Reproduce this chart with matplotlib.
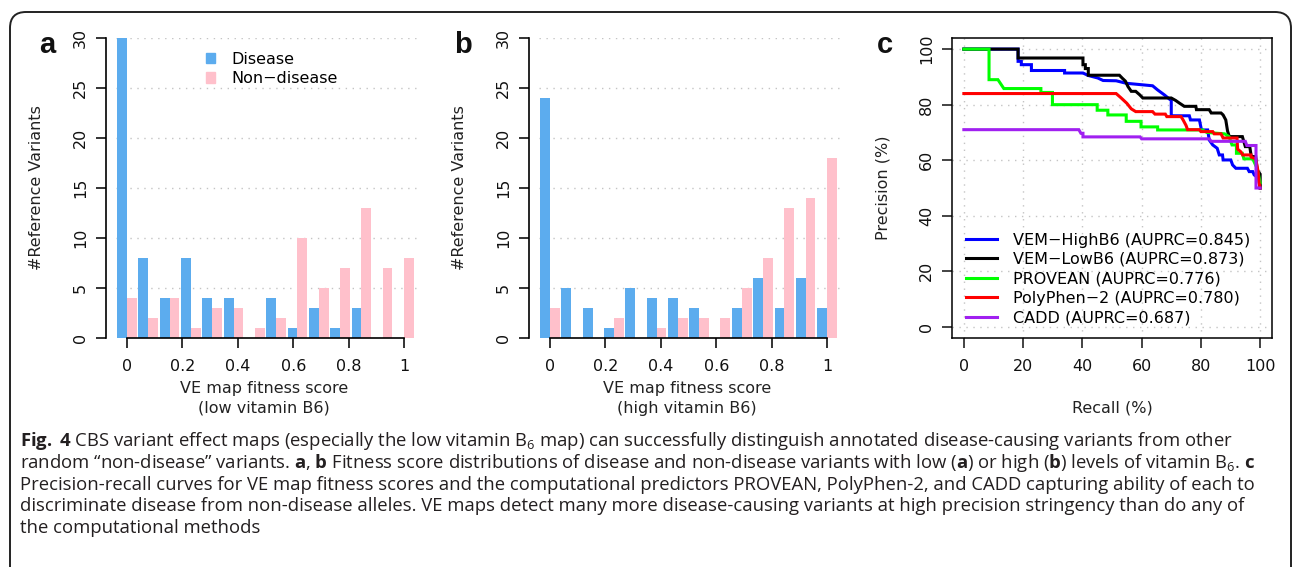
import matplotlib
matplotlib.use("Agg")
import matplotlib.pyplot as plt
import numpy as np
from matplotlib import font_manager
from matplotlib.patches import Patch, FancyBboxPatch
from matplotlib.transforms import IdentityTransform

# --- data -------------------------------------------------------------
score_bins = [0, 0.077, 0.154, 0.231, 0.308, 0.385, 0.462,
              0.538, 0.615, 0.692, 0.769, 0.846, 0.923, 1.0]
low_b6_disease = [30, 8, 4, 8, 4, 4, 0, 4, 1, 3, 1, 3, 0, 0]
low_b6_nondisease = [4, 2, 4, 1, 3, 3, 1, 2, 10, 5, 7, 13, 7, 8]
high_b6_disease = [24, 5, 3, 1, 5, 4, 4, 3, 0, 3, 6, 3, 6, 3]
high_b6_nondisease = [3, 0, 0, 2, 0, 1, 2, 2, 2, 5, 8, 13, 14, 18]

# precision-recall curves (recall %, precision %)
vem_high_recall = [0, 18.3, 18.3, 19.4, 19.4, 22.8, 22.8, 34, 34, 40.2, 42, 45.2, 47, 51.4,
                   54.8, 63.7, 65.4, 67.7, 69.4, 70, 70, 76.1, 76.5, 79.5, 80.2, 82.3,
                   82.8, 84, 85.5, 86.2, 87.3, 87.5, 90.1, 90.7, 91.8, 95.7, 96.3, 97.5,
                   98, 99.5, 100]
vem_high_prec = [100, 100, 95.6, 95.6, 94.4, 94.4, 92.3, 92.3, 91.4, 91.4, 90.5, 89.6, 88.7, 88.6,
                 87.7, 86.8, 85.3, 83.5, 82, 82, 76, 76, 74.5, 74.5, 70.9, 70.9,
                 67.3, 65.5, 64.3, 61.9, 61.9, 60.1, 60.1, 58.3, 57.1, 57.1, 55.9, 55.9,
                 54.7, 53.5, 50]
vem_low_recall = [0, 18.3, 18.3, 40.2, 40.2, 41, 41, 42, 42, 52.5, 53.5, 54.5, 55.4, 56.5, 58,
                  59.3, 60.4, 70, 71.5, 72.7, 74.4, 78.3, 78.5, 82.8, 83.5, 86.8, 87.5,
                  88.4, 89, 89.6, 94, 95, 96.5, 97, 98.5, 99, 100, 100]
vem_low_prec = [100, 100, 96.8, 96.8, 94.4, 94.4, 93, 93, 90.6, 90.6, 89.5, 88.5, 86.5, 84.8, 84.8,
                83.6, 82.4, 82.4, 81.5, 80.6, 79.4, 79.4, 78.2, 78.2, 77, 77, 76.3,
                74.5, 70.5, 68.5, 68.5, 64.9, 64.9, 61.3, 61.3, 56.5, 55, 50]
provean_recall = [0, 8.5, 8.5, 11.5, 13.5, 26, 26, 29.9, 29.9, 45, 45, 48.6, 48.6, 54.8, 54.8,
                  59.8, 59.8, 65.4, 65.4, 80.6, 82, 88, 89.5, 90.5, 92, 92, 94, 94.5,
                  97.5, 99, 100]
provean_prec = [100, 100, 89, 89, 85.8, 85.8, 84.4, 84.4, 80, 80, 78, 78, 76.3, 76.3, 74,
                74, 72, 72, 70.9, 70.9, 70, 69.5, 68.5, 65.5, 65.5, 62.5, 62.5, 60.5,
                60.5, 57, 52]
polyphen_recall = [0, 51.4, 53, 55, 56.5, 58, 63.7, 64.5, 68, 68.5, 73.3, 74, 75, 75.5, 79.5,
                   80, 84, 84.5, 86.8, 87.5, 92.2, 92.4, 93.5, 94.1, 96.9, 97, 98.5, 99.3,
                   99.6, 100]
polyphen_prec = [84, 84, 82.5, 80.5, 78.5, 77.5, 77.5, 76.6, 76.6, 75.7, 75.7, 74.5, 72.5, 71, 71,
                 70.3, 70.3, 69.5, 69.5, 68, 68, 64, 63, 61.9, 61.9, 61.1, 60.5, 56,
                 52, 50]
cadd_recall = [0, 38.8, 39.5, 40.2, 40.2, 59.5, 60, 82.8, 83.5, 95, 95.5, 98.6, 98.6, 100]
cadd_prec = [71, 71, 69.7, 69.7, 68.4, 68.4, 67.7, 67.7, 66.8, 66.8, 65.3, 65.3, 50, 50]

pr_labels = ["VEM\u2212HighB6 (AUPRC=0.845)", "VEM\u2212LowB6 (AUPRC=0.873)",
             "PROVEAN (AUPRC=0.776)", "PolyPhen\u22122 (AUPRC=0.780)",
             "CADD (AUPRC=0.687)"]
pr_colors = ["#0000ff", "#000000", "#00ff00", "#ff0000", "#a020f0"]

caption_lines = [
    r"$\mathbf{Fig.}$ $\mathbf{4}$ CBS variant effect maps (especially the low vitamin B$_6$ map) can successfully distinguish annotated disease-causing variants from other",
    r"random “non-disease” variants. $\mathbf{a}$, $\mathbf{b}$ Fitness score distributions of disease and non-disease variants with low ($\mathbf{a}$) or high ($\mathbf{b}$) levels of vitamin B$_6$. $\mathbf{c}$",
    "Precision-recall curves for VE map fitness scores and the computational predictors PROVEAN, PolyPhen-2, and CADD capturing ability of each to",
    "discriminate disease from non-disease alleles. VE maps detect many more disease-causing variants at high precision stringency than do any of",
    "the computational methods",
]

# --- fonts ------------------------------------------------------------
def has_font(name):
    try:
        font_manager.findfont(name, fallback_to_default=False)
        return True
    except ValueError:
        return False

cap_font = next(f for f in ["Liberation Sans Narrow", "Open Sans", "Liberation Sans"] if has_font(f))
plt.rcParams["font.family"] = "DejaVu Sans"
plt.rcParams["mathtext.fontset"] = "custom"
plt.rcParams["mathtext.rm"] = cap_font
plt.rcParams["mathtext.it"] = cap_font + ":italic"
plt.rcParams["mathtext.bf"] = cap_font + ":bold"

W, H = 1293, 567
FS = 11.5
TXT = "#222222"
GRID = "#c4c4c4"

def fx(x):
    return x / W

def fy(y):
    return 1 - y / H

fig = plt.figure(figsize=(W / 100, H / 100), dpi=100)
fig.add_artist(FancyBboxPatch((10, -60), 1281, 555 + 60,
                              boxstyle="round,pad=0,rounding_size=16",
                              transform=IdentityTransform(), fill=False,
                              lw=1.4, ec="#222222"))

disease_col = "#5CACEE"
nondisease_col = "#FFC0CB"
bw = 0.0355


def hist_panel(ax, dis, nondis):
    x = np.array(score_bins)
    ax.hlines([5, 10, 15, 20, 25, 30], -0.04, 1.065, colors=GRID,
              linestyles=(0, (1, 4)), lw=1, zorder=0)
    ax.bar(x - bw / 2, dis, width=bw, color=disease_col, zorder=2)
    ax.bar(x + bw / 2, nondis, width=bw, color=nondisease_col, zorder=2)
    ax.set_xlim(-0.0758, 1.065)
    ax.set_ylim(0, 30)
    for s in ["top", "right"]:
        ax.spines[s].set_visible(False)
    ax.spines["left"].set_bounds(0, 30)
    ax.spines["bottom"].set_bounds(0, 1)
    ax.spines["left"].set_linewidth(1.2)
    ax.spines["bottom"].set_linewidth(1.2)
    ax.set_xticks([0, 0.2, 0.4, 0.6, 0.8, 1.0])
    ax.set_xticklabels(["0", "0.2", "0.4", "0.6", "0.8", "1"])
    ax.set_yticks([0, 5, 10, 15, 20, 25, 30])
    ax.set_yticklabels(["0", "5", "10", "15", "20", "25", "30"], rotation=90, va="center")
    ax.tick_params(length=7, width=1.2, labelsize=FS, colors="#111111", pad=6)
    ax.tick_params(axis="x", pad=8)


ax_a = fig.add_axes([fx(106), fy(338), 316 / W, 300 / H])
hist_panel(ax_a, low_b6_disease, low_b6_nondisease)
ax_a.legend(handles=[Patch(color=disease_col, label="Disease"),
                     Patch(color=nondisease_col, label="Non\u2212disease")],
            loc="upper left", bbox_to_anchor=(0.315, 0.955), frameon=False,
            fontsize=FS, handlelength=0.62, handleheight=0.62,
            handletextpad=1.0, labelspacing=0.29, borderpad=0, borderaxespad=0)

ax_b = fig.add_axes([fx(529), fy(338), 316 / W, 300 / H])
hist_panel(ax_b, high_b6_disease, high_b6_nondisease)

# axis labels for the histograms
for cx, sub in [(264, "(low vitamin B6)"), (687, "(high vitamin B6)")]:
    fig.text(fx(cx), fy(388), "VE map fitness score", ha="center", va="center", fontsize=FS, color=TXT)
    fig.text(fx(cx), fy(408), sub, ha="center", va="center", fontsize=FS, color=TXT)
for lx in [37, 460]:
    fig.text(fx(lx), fy(188), "#Reference Variants", rotation=90, ha="center", va="center",
             fontsize=FS, color=TXT)

# --- precision-recall panel -------------------------------------------
ax_c = fig.add_axes([fx(952), fy(338), 320 / W, 300 / H])
ticks = [0, 20, 40, 60, 80, 100]
for t in ticks:
    ax_c.axvline(t, color=GRID, ls=(0, (1, 4)), lw=1, zorder=0)
    ax_c.axhline(t, color=GRID, ls=(0, (1, 4)), lw=1, zorder=0)
curves = [(vem_high_recall, vem_high_prec), (vem_low_recall, vem_low_prec),
          (provean_recall, provean_prec), (polyphen_recall, polyphen_prec),
          (cadd_recall, cadd_prec)]
for (r, p), col, lab in zip(curves, pr_colors, pr_labels):
    ax_c.plot(r, p, color=col, lw=2.2, label=lab, solid_joinstyle="miter")
ax_c.set_xlim(-4, 104)
ax_c.set_ylim(-4, 104)
ax_c.set_xticks(ticks)
ax_c.set_yticks(ticks)
ax_c.set_yticklabels([str(t) for t in ticks], rotation=90, va="center")
ax_c.tick_params(length=7, width=1.1, labelsize=FS, colors="#111111", pad=6)
ax_c.tick_params(axis="x", pad=8)
for s in ax_c.spines.values():
    s.set_linewidth(1.1)
ax_c.legend(loc="lower left", bbox_to_anchor=(0.045, 0.042), frameon=False, fontsize=FS,
            handlelength=1.9, handletextpad=1.0, labelspacing=0.28,
            borderpad=0, borderaxespad=0)
fig.text(fx(1112), fy(408), "Recall (%)", ha="center", va="center", fontsize=FS, color=TXT)
fig.text(fx(883), fy(188), "Precision (%)", rotation=90, ha="center", va="center",
         fontsize=FS, color=TXT)

# panel letters
for px_, py_, letter in [(47, 45, "a"), (463, 45, "b"), (885, 45, "c")]:
    fig.text(fx(px_), fy(py_), letter, ha="center", va="center", fontsize=21,
             fontweight="bold", family="Liberation Sans", color="#111111")

# --- caption ----------------------------------------------------------
for i, line in enumerate(caption_lines):
    fig.text(fx(20), fy(446 + 21.8 * i), line, ha="left", va="baseline",
             fontsize=13.3, family=cap_font, color="#231f20")

fig.savefig("out.png", dpi=100)
